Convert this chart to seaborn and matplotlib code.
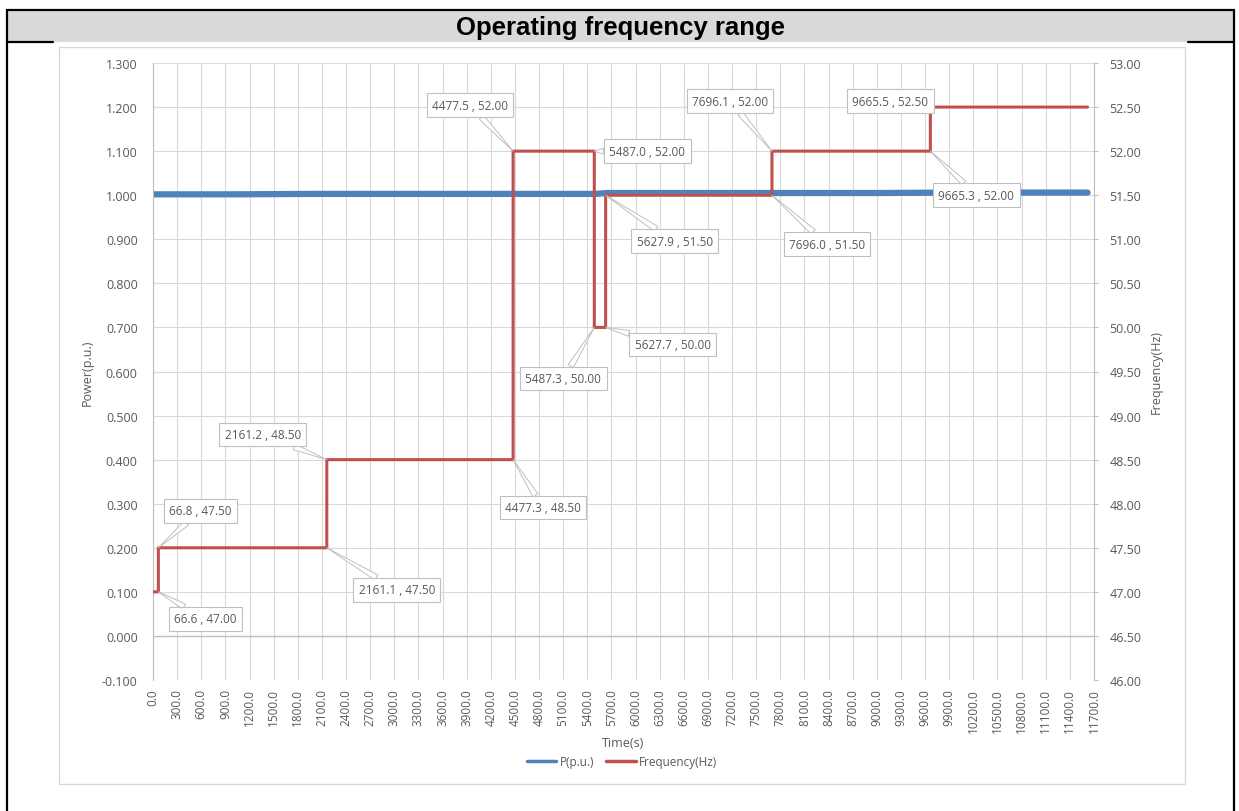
import numpy as np
import pandas as pd
import seaborn as sns
import matplotlib
matplotlib.use('Agg')
import matplotlib.pyplot as plt
from matplotlib.patches import Rectangle
from matplotlib.lines import Line2D

# frequency steps (s, Hz) - corners of the red trace
freq_time = [0.0, 66.6, 66.8, 2161.1, 2161.2, 4477.3, 4477.5, 5487.0, 5487.3,
             5627.7, 5627.9, 7696.0, 7696.1, 9665.3, 9665.5, 11620.0]
freq_hz = [47.00, 47.00, 47.50, 47.50, 48.50, 48.50, 52.00, 52.00, 50.00,
           50.00, 51.50, 51.50, 52.00, 52.00, 52.50, 52.50]

# active power, sits just above 1 p.u.
p_time = [0, 1000, 2000, 3000, 4000, 5000, 5500, 5650, 6000, 7000, 8000,
          9000, 10000, 11000, 11620]
p_pu = [1.002, 1.002, 1.003, 1.003, 1.003, 1.003, 1.003, 1.005, 1.005,
        1.005, 1.005, 1.005, 1.006, 1.006, 1.006]

# which corners get a callout, and where the box sits (pixel offset)
callout_idx = [1, 2, 3, 4, 5, 6, 7, 8, 9, 10, 11, 12, 13, 14]
callout_off = [(47, -27), (42, 37), (70, -42), (-64, 25), (30, -48), (-43, 46),
               (53, 0), (-31, -51), (67, -17), (69, -46), (55, -49), (-42, 50),
               (46, -44), (-40, 6)]

x_ticks = np.arange(0, 11701, 300)
p_ticks = np.arange(-0.1, 1.301, 0.1)
f_ticks = np.arange(46.0, 53.01, 0.5)

W, H = 1239, 812
def fx(x):
    return x / W
def fy(y):
    return 1 - y / H

sns.set_style('white')
plt.rcParams['font.family'] = ['Open Sans', 'DejaVu Sans']
txt = '#595959'
grid = '#d9d9d9'
blue = '#4F81BD'
red = '#C0504D'

fig = plt.figure(figsize=(W / 100, H / 100), dpi=100)

# frame + title band
fig.add_artist(Rectangle((fx(7), fy(43)), fx(1234) - fx(7), fy(11) - fy(43),
                         transform=fig.transFigure, fc='#d9d9d9', ec='none', zorder=-3))
for xs, ys in [((7, 1234), (11, 11)), ((7, 7), (11, 812)), ((1234, 1234), (11, 812)),
               ((7, 53), (43, 43)), ((1188, 1234), (43, 43))]:
    fig.add_artist(Line2D([fx(v) for v in xs], [fy(v) for v in ys],
                          transform=fig.transFigure, color='black', lw=1.6, zorder=-2))
fig.add_artist(Rectangle((fx(59), fy(785)), fx(1185) - fx(59), fy(48) - fy(785),
                         transform=fig.transFigure, fc='white', ec=grid, lw=1, zorder=-2))
fig.text(fx(621), fy(28), 'Operating frequency range', ha='center', va='center',
         family=['Liberation Sans'], weight='bold', size=18.5, color='black')

ax = fig.add_axes([fx(153), fy(681), fx(1094) - fx(153), fy(64) - fy(681)])
ax2 = ax.twinx()
ax.set_facecolor('none')

sns.lineplot(x=p_time, y=p_pu, ax=ax, color=blue, lw=4.5, label='P(p.u.)', legend=False)
sns.lineplot(x=freq_time, y=freq_hz, ax=ax2, color=red, lw=2.2, label='Frequency(Hz)',
             legend=False, sort=False)

ax.set_xlim(0, 11700)
ax.set_ylim(-0.1, 1.3)
ax2.set_ylim(46, 53)
ax.set_xticks(x_ticks)
ax.set_xticklabels([f'{v:.1f}' for v in x_ticks], rotation=90)
ax.set_yticks(p_ticks)
ax.set_yticklabels([f'{v:.3f}' for v in p_ticks])
ax2.set_yticks(f_ticks)
ax2.set_yticklabels([f'{v:.2f}' for v in f_ticks])

ax.grid(True, color=grid, lw=0.8)
ax.set_axisbelow(True)
ax.axhline(0, color='#bfbfbf', lw=1, zorder=1)
for a in (ax, ax2):
    for s in a.spines.values():
        s.set_visible(False)
ax.spines['left'].set_visible(True)
ax.spines['left'].set_color('#bfbfbf')
ax2.spines['right'].set_visible(True)
ax2.spines['right'].set_color('#bfbfbf')

ax.tick_params(axis='y', length=0, pad=11, labelsize=9, labelcolor=txt)
ax.tick_params(axis='x', length=0, pad=6, labelsize=8.5, labelcolor=txt)
ax2.tick_params(axis='y', length=3, color='#bfbfbf', pad=8, labelsize=9, labelcolor=txt)

ax.set_xlabel('Time(s)', color=txt, size=9)
ax.set_ylabel('Power(p.u.)', color=txt, size=9)
ax2.set_ylabel('Frequency(Hz)', color=txt, size=9)
ax.xaxis.set_label_coords(0.5, -(737 - 681) / 617)
ax.yaxis.set_label_coords((94 - 153) / 941, 0.5)
ax2.yaxis.set_label_coords((1150 - 153) / 941, 0.5)

# callouts
for i, off in zip(callout_idx, callout_off):
    t, f = freq_time[i], freq_hz[i]
    ax2.annotate(f'{t:.1f} , {f:.2f}', xy=(t, f), xytext=off, textcoords='offset pixels',
                 ha='center', va='center', size=8.5, color=txt,
                 bbox=dict(boxstyle='square,pad=0.45', fc='white', ec='#bfbfbf', lw=0.8),
                 arrowprops=dict(arrowstyle='wedge,tail_width=0.5', fc='white', ec='#bfbfbf',
                                 lw=0.7, shrinkA=0, shrinkB=0))

h1, l1 = ax.get_legend_handles_labels()
h2, l2 = ax2.get_legend_handles_labels()
fig.legend([Line2D([], [], color=blue, lw=2.5), Line2D([], [], color=red, lw=2.5)], l1 + l2,
           loc='center', bbox_to_anchor=(fx(622), fy(763)), ncol=2, frameon=False,
           fontsize=8.5, labelcolor=txt, handlelength=2.5, handletextpad=0.3, columnspacing=1.0)

fig.savefig('out.png', dpi=100)
